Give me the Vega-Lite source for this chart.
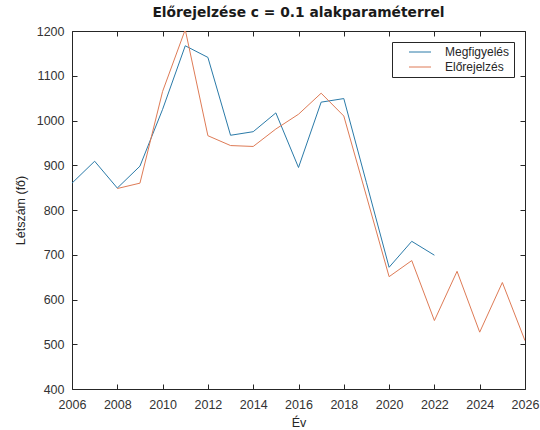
{
  "$schema": "https://vega.github.io/schema/vega-lite/v6.json",
  "width": 453,
  "height": 358,
  "autosize": {"type": "none"},
  "padding": {"left": 72, "top": 31, "right": 15, "bottom": 41},
  "background": "white",
  "title": {
    "text": "Előrejelzése c = 0.1 alakparaméterrel",
    "font": "DejaVu Sans",
    "fontSize": 13.8,
    "fontWeight": "bold",
    "color": "#1a1a1a",
    "offset": 5,
    "anchor": "middle",
    "frame": "group"
  },
  "data": {
    "values": [
      {"ev": 2006, "ertek": 860, "sorozat": "Megfigyelés"},
      {"ev": 2007, "ertek": 909, "sorozat": "Megfigyelés"},
      {"ev": 2008, "ertek": 849, "sorozat": "Megfigyelés"},
      {"ev": 2009, "ertek": 898, "sorozat": "Megfigyelés"},
      {"ev": 2010, "ertek": 1025, "sorozat": "Megfigyelés"},
      {"ev": 2011, "ertek": 1167, "sorozat": "Megfigyelés"},
      {"ev": 2012, "ertek": 1141, "sorozat": "Megfigyelés"},
      {"ev": 2013, "ertek": 967, "sorozat": "Megfigyelés"},
      {"ev": 2014, "ertek": 975, "sorozat": "Megfigyelés"},
      {"ev": 2015, "ertek": 1017, "sorozat": "Megfigyelés"},
      {"ev": 2016, "ertek": 895, "sorozat": "Megfigyelés"},
      {"ev": 2017, "ertek": 1041, "sorozat": "Megfigyelés"},
      {"ev": 2018, "ertek": 1049, "sorozat": "Megfigyelés"},
      {"ev": 2019, "ertek": 861, "sorozat": "Megfigyelés"},
      {"ev": 2020, "ertek": 672, "sorozat": "Megfigyelés"},
      {"ev": 2021, "ertek": 730, "sorozat": "Megfigyelés"},
      {"ev": 2022, "ertek": 699, "sorozat": "Megfigyelés"},
      {"ev": 2008, "ertek": 848, "sorozat": "Előrejelzés"},
      {"ev": 2009, "ertek": 860, "sorozat": "Előrejelzés"},
      {"ev": 2010, "ertek": 1065, "sorozat": "Előrejelzés"},
      {"ev": 2011, "ertek": 1203, "sorozat": "Előrejelzés"},
      {"ev": 2012, "ertek": 966, "sorozat": "Előrejelzés"},
      {"ev": 2013, "ertek": 944, "sorozat": "Előrejelzés"},
      {"ev": 2014, "ertek": 942, "sorozat": "Előrejelzés"},
      {"ev": 2015, "ertek": 981, "sorozat": "Előrejelzés"},
      {"ev": 2016, "ertek": 1014, "sorozat": "Előrejelzés"},
      {"ev": 2017, "ertek": 1061, "sorozat": "Előrejelzés"},
      {"ev": 2018, "ertek": 1010, "sorozat": "Előrejelzés"},
      {"ev": 2019, "ertek": 831, "sorozat": "Előrejelzés"},
      {"ev": 2020, "ertek": 651, "sorozat": "Előrejelzés"},
      {"ev": 2021, "ertek": 687, "sorozat": "Előrejelzés"},
      {"ev": 2022, "ertek": 553, "sorozat": "Előrejelzés"},
      {"ev": 2023, "ertek": 663, "sorozat": "Előrejelzés"},
      {"ev": 2024, "ertek": 527, "sorozat": "Előrejelzés"},
      {"ev": 2025, "ertek": 638, "sorozat": "Előrejelzés"},
      {"ev": 2026, "ertek": 508, "sorozat": "Előrejelzés"}
    ]
  },
  "layer": [
    {
      "mark": {"type": "line", "strokeWidth": 1, "clip": true},
      "encoding": {
        "x": {
          "field": "ev",
          "type": "quantitative",
          "scale": {"domain": [2006, 2026], "nice": false, "zero": false},
          "axis": {
            "orient": "bottom",
            "values": [2006, 2008, 2010, 2012, 2014, 2016, 2018, 2020, 2022, 2024, 2026],
            "format": "d",
            "tickSize": -5,
            "labelPadding": 14,
            "title": "Év",
            "titlePadding": 6
          }
        },
        "y": {
          "field": "ertek",
          "type": "quantitative",
          "scale": {"domain": [400, 1200], "nice": false, "zero": false},
          "axis": {
            "orient": "left",
            "values": [400, 500, 600, 700, 800, 900, 1000, 1100, 1200],
            "format": "d",
            "tickSize": -5,
            "labelPadding": 13,
            "title": "Létszám (fő)",
            "titlePadding": 9
          }
        },
        "color": {
          "field": "sorozat",
          "type": "nominal",
          "scale": {
            "domain": ["Megfigyelés", "Előrejelzés"],
            "range": ["#2a7aa8", "#de7b56"]
          },
          "legend": {
            "title": null,
            "orient": "top-right",
            "offset": 11,
            "symbolType": "M-2,0H2",
            "symbolSize": 121,
            "symbolOffset": 18,
            "symbolStrokeWidth": 1,
            "labelOffset": 19,
            "strokeColor": "#262626",
            "fillColor": "white",
            "padding": 4,
            "rowPadding": 3,
            "labelFontSize": 12,
            "labelFont": "Liberation Sans",
            "labelColor": "#262626"
          }
        }
      }
    },
    {
      "mark": {"type": "line", "opacity": 0},
      "encoding": {
        "x": {
          "field": "ev",
          "type": "quantitative",
          "scale": {"domain": [2006, 2026], "nice": false, "zero": false},
          "axis": {
            "orient": "top",
            "values": [2006, 2008, 2010, 2012, 2014, 2016, 2018, 2020, 2022, 2024, 2026],
            "tickSize": -5,
            "labels": false,
            "title": null
          }
        },
        "y": {
          "field": "ertek",
          "type": "quantitative",
          "scale": {"domain": [400, 1200], "nice": false, "zero": false},
          "axis": {
            "orient": "right",
            "values": [400, 500, 600, 700, 800, 900, 1000, 1100, 1200],
            "tickSize": -5,
            "labels": false,
            "title": null
          }
        },
        "detail": {"field": "sorozat"}
      }
    }
  ],
  "resolve": {"axis": {"x": "independent", "y": "independent"}},
  "config": {
    "view": {"stroke": "#262626", "strokeWidth": 1},
    "axis": {
      "grid": false,
      "domain": false,
      "tickColor": "#262626",
      "tickWidth": 1,
      "labelFont": "Liberation Sans",
      "labelFontSize": 12.5,
      "labelColor": "#333333",
      "labelFlush": false,
      "labelOverlap": false,
      "labelBound": false,
      "titleFont": "Liberation Sans",
      "titleFontSize": 12.5,
      "titleFontWeight": "normal",
      "titleColor": "#262626"
    }
  }
}
